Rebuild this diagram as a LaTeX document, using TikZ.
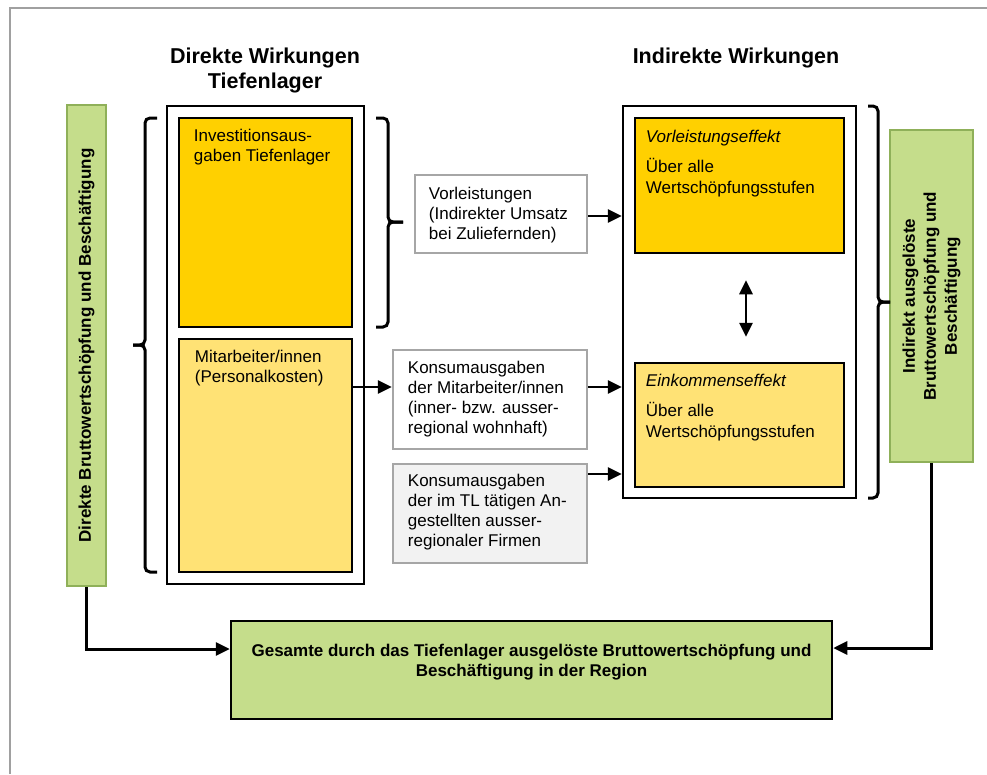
\documentclass[tikz,border=0pt]{standalone}
\usepackage{fontspec}
\setmainfont{Liberation Sans}
\usetikzlibrary{arrows.meta}
\definecolor{gold}{RGB}{255,208,0}
\definecolor{lightyellow}{RGB}{255,226,117}
\definecolor{greenfill}{RGB}{197,221,139}
\definecolor{greenline}{RGB}{143,176,89}
\definecolor{grayline}{RGB}{166,166,166}
\definecolor{grayfill}{RGB}{242,242,242}
\definecolor{framegray}{RGB}{160,160,160}
\newcommand\mystrut{\rule{0pt}{14pt}}
\begin{document}
\begin{tikzpicture}[x=1pt,y=-1pt,
  outerbox/.style={draw=black, line width=2.5pt, fill=white, inner sep=0pt, rectangle},
  goldbox/.style={draw=black, line width=2.5pt, fill=gold, inner sep=0pt, rectangle},
  lightbox/.style={draw=black, line width=2.5pt, fill=lightyellow, inner sep=0pt, rectangle},
  graybox/.style={draw=grayline, line width=2.5pt, fill=white, inner sep=0pt, rectangle},
  graybox2/.style={draw=grayline, line width=2.5pt, fill=grayfill, inner sep=0pt, rectangle},
  gbar/.style={draw=greenline, line width=2pt, fill=greenfill, inner sep=0pt, rectangle,
    font=\fontsize{17}{21}\selectfont\bfseries, align=center},
  gbox/.style={draw=black, line width=2.5pt, fill=greenfill, inner sep=0pt, rectangle},
  txt/.style={font=\fontsize{17}{20}\selectfont, align=left, inner sep=0pt, anchor=north west},
  btxt/.style={font=\fontsize{17}{20}\selectfont\bfseries, align=center, inner sep=0pt, anchor=north},
  titletxt/.style={font=\fontsize{21.5}{25}\selectfont\bfseries, align=center, inner sep=0pt, anchor=north},
  brace/.style={draw=black, line width=3pt, rounded corners=5pt},
  arr/.style={draw=black, line width=2.8pt, -{Triangle[length=14pt,width=13pt]}},
  darr/.style={draw=black, line width=2.8pt, {Triangle[length=14pt,width=13pt]}-{Triangle[length=14pt,width=13pt]}},
]
\useasboundingbox (0,0) rectangle (987,774);
% frame
\draw[framegray, line width=2pt] (10,774) -- (10,8) -- (987,8);

% titles
\node[titletxt] (t1) at (265,46) {\rule{0pt}{17pt}Direkte Wirkungen\\Tiefenlager};
\node[titletxt] (t2) at (736,46) {\rule{0pt}{17pt}Indirekte Wirkungen};

% direct side
\node[outerbox, minimum width=197pt, minimum height=478pt] (dir) at (265.5,345) {};
\node[goldbox, minimum width=173pt, minimum height=209pt] (inv) at (265.5,222.5) {};
\node[lightbox, minimum width=173pt, minimum height=233pt] (mit) at (265.5,455.5) {};
\node[txt] (tinv) at ([shift={(16,11)}]inv.north west) {\mystrut Investitionsaus-\\gaben Tiefenlager};
\node[txt] (tmit) at ([shift={(17,11)}]mit.north west) {\mystrut Mitarbeiter/innen\\(Personalkosten)};

% middle boxes
\node[graybox, minimum width=172pt, minimum height=78pt] (vl) at (501,214) {};
\node[txt] (tvl) at ([shift={(15,12)}]vl.north west) {\mystrut Vorleistungen\\(Indirekter Umsatz\\bei Zuliefernden)};
\node[graybox, minimum width=194pt, minimum height=99pt] (k1) at (490,399.5) {};
\node[txt] (tk1) at ([shift={(16,11)}]k1.north west) {\mystrut Konsumausgaben\\der Mitarbeiter/innen\\(inner- bzw. ausser-\\regional wohnhaft)};
\node[graybox2, minimum width=194pt, minimum height=99pt] (k2) at (490,513.5) {};
\node[txt] (tk2) at ([shift={(16,10)}]k2.north west) {\mystrut Konsumausgaben\\der im TL tätigen An-\\gestellten ausser-\\regionaler Firmen};

% indirect side
\node[outerbox, minimum width=233pt, minimum height=392pt] (ind) at (739.5,302) {};
\node[goldbox, minimum width=209pt, minimum height=135pt] (vle) at (739.5,185.5) {};
\node[lightbox, minimum width=209pt, minimum height=124pt] (eke) at (739.5,425) {};
\node[txt, font=\fontsize{17}{21.5}\selectfont] (tvle) at ([shift={(12,12)}]vle.north west) {\mystrut\textit{Vorleistungseffekt}\\[8pt]Über alle\\Wertschöpfungsstufen};
\node[txt, font=\fontsize{17}{21.5}\selectfont] (teke) at ([shift={(12,11)}]eke.north west) {\mystrut\textit{Einkommenseffekt}\\[8pt]Über alle\\Wertschöpfungsstufen};

% green bars
\node[gbar, rotate=90, minimum width=481pt, minimum height=39pt] (lbar) at (86.5,345.5) {Direkte Bruttowertschöpfung und Beschäftigung};
\node[gbar, rotate=90, minimum width=332pt, minimum height=83pt] (rbar) at (931.5,296) {Indirekt ausgelöste\\Bruttowertschöpfung und\\Beschäftigung};

% bottom box
\node[gbox, minimum width=601pt, minimum height=98pt] (bot) at (531.5,670) {};
\node[btxt] (tbot) at ([shift={(0,23)}]bot.north) {\mystrut Gesamte durch das Tiefenlager ausgelöste Bruttowertschöpfung und\\Beschäftigung in der Region};

% braces
\draw[brace] (157,118) -- (145,118) -- (145,345) -- (133,345);
\draw[brace] (133,345) -- (145,345) -- (145,572) -- (157,572);
\draw[brace] (376,118) -- (388,118) -- (388,222) -- (403,222);
\draw[brace] (403,222) -- (388,222) -- (388,327) -- (376,327);
\draw[brace] (868,106) -- (878,106) -- (878,302) -- (890,302);
\draw[brace] (890,302) -- (878,302) -- (878,498) -- (868,498);

% arrows
\draw[arr] (vl.east |- 0,216) -- (ind.west |- 0,216);
\draw[arr] (mit.east |- 0,387) -- (k1.west |- 0,387);
\draw[arr] (k1.east |- 0,387) -- (ind.west |- 0,387);
\draw[arr] (k2.east |- 0,474) -- (ind.west |- 0,474);
\draw[darr, shorten <=26pt, shorten >=25pt] ([xshift=6.5pt]vle.south) -- ([xshift=6.5pt]eke.north);
\draw[arr, line width=3pt] (lbar.west) |- (bot.west |- 0,649);
\draw[arr, line width=3pt] (rbar.west) |- (bot.east |- 0,648);
\end{tikzpicture}
\end{document}
